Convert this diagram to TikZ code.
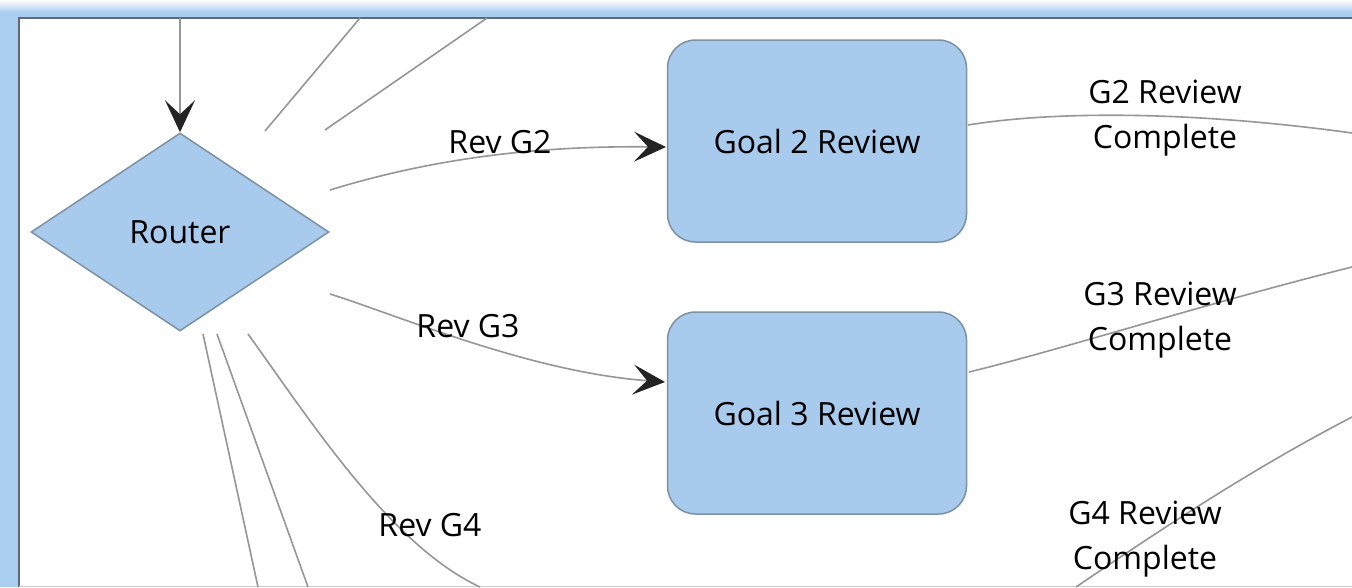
\documentclass[tikz,border=0pt]{standalone}
\usepackage{fontspec}
\setmainfont{Open Sans}
\usetikzlibrary{shapes.geometric,arrows.meta}
\definecolor{boxfill}{RGB}{168,202,236}
\definecolor{boxline}{RGB}{125,145,165}
\definecolor{edgegray}{RGB}{150,150,150}
\definecolor{tipdark}{RGB}{35,35,35}
\definecolor{frameblue}{RGB}{170,205,242}
\definecolor{frameline}{RGB}{95,105,115}
\begin{document}
\begin{tikzpicture}[x=1pt,y=-1pt,
  txt/.style={font=\fontsize{32}{45}\selectfont},
  lab/.style={txt, align=center, inner sep=0pt, text=black},
  proc/.style={txt, draw=boxline, line width=1.5pt, fill=boxfill, rounded corners=28pt,
    minimum width=299pt, minimum height=202pt, inner sep=0pt},
  decide/.style={txt, diamond, draw=boxline, fill=boxfill, line width=1.5pt,
    minimum width=298pt, minimum height=198pt, inner sep=0pt},
  flow/.style={draw=edgegray, line width=1.6pt},
  tip/.style={-{Stealth[length=32pt,width=30pt,inset=14pt,color=tipdark]}}]
\useasboundingbox (0,0) rectangle (1352,587);
% window frame
\fill[frameblue] (0,0) rectangle (1352,587);
\shade[top color=white, bottom color=frameblue] (0,0) rectangle (1352,12);
\fill[white] (19,18) rectangle (1352,587);
\draw[frameline, line width=1.5pt] (19,587) -- (19,18) -- (1352,18);
\draw[gray!40, line width=1pt] (19,586) -- (1352,586);

% nodes
\node[decide] (router) at (180,232) {Router};
\node[proc] (g2) at (817,141) {Goal 2 Review};
\node[proc] (g3) at (817,413) {Goal 3 Review};

% free ends and attachment points
\coordinate (topin) at (180,18);
\coordinate (ta) at (360,18);  \coordinate (tae) at (265,131);
\coordinate (tb) at (487,18);  \coordinate (tbe) at (325,130);
\coordinate (r2) at (330,190); \coordinate (g2in) at (666,147);
\coordinate (r3) at (330,294); \coordinate (g3in) at (665,382);
\coordinate (r4) at (248,334); \coordinate (r4e) at (480,587);
\coordinate (r5) at (203,334); \coordinate (r5e) at (258,587);
\coordinate (r6) at (217,334); \coordinate (r6e) at (308,587);
\coordinate (g2out) at (968,125); \coordinate (g2e) at (1352,133);
\coordinate (g3out) at (969,372); \coordinate (g3e) at (1352,267);
\coordinate (g4s) at (1352,417); \coordinate (g4e) at (1076,587);

% connectors
\draw[flow,tip] (topin) -- (router.north);
\draw[flow] (ta) -- (tae);
\draw[flow] (tb) -- (tbe);
\draw[flow,tip] (r2) .. controls (450,153) and (560,146) .. (g2in);
\draw[flow,tip] (r3) .. controls (400,316) and (530,372) .. (g3in);
\draw[flow] (r4) .. controls (310,420) and (390,545) .. (r4e);
\draw[flow] (r5) -- (r5e);
\draw[flow] (r6) -- (r6e);
\draw[flow] (g2out) .. controls (1060,110) and (1200,112) .. (g2e);
\draw[flow] (g3out) .. controls (1060,350) and (1200,305) .. (g3e);
\draw[flow] (g4s) .. controls (1250,470) and (1160,530) .. (g4e);

% labels
\node[lab] (lrev2) at (500,142) {Rev G2};
\node[lab] (lrev3) at (468,326) {Rev G3};
\node[lab] (lrev4) at (430,525) {Rev G4};
\node[lab] (lc2) at (1165,118) {G2 Review\\Complete};
\node[lab] (lc3) at (1160,320) {G3 Review\\Complete};
\node[lab] (lc4) at (1145,539) {G4 Review\\Complete};
\end{tikzpicture}
\end{document}
